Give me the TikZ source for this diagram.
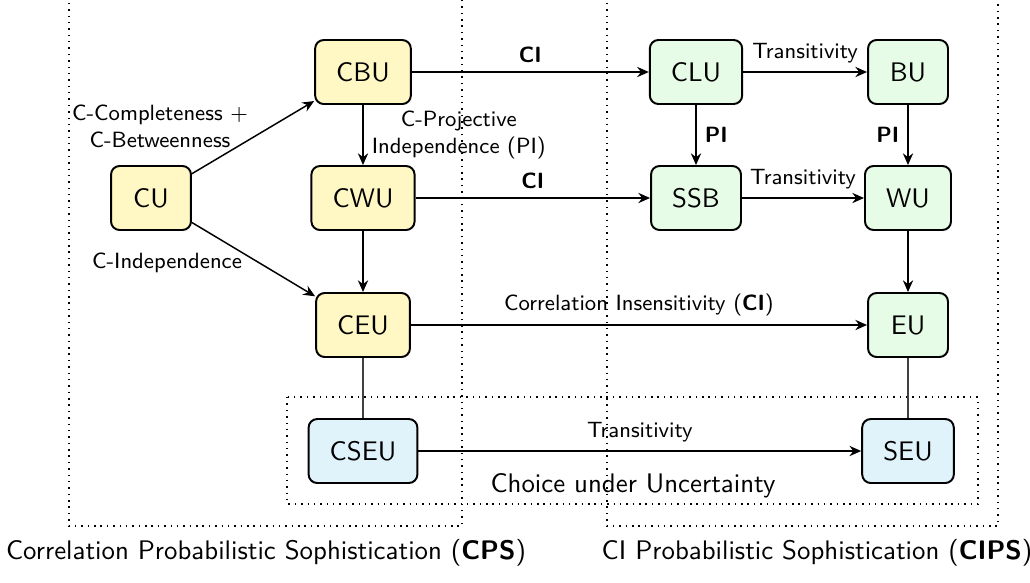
\documentclass[tikz,border=0pt]{standalone}
\usepackage{fontspec}
\usetikzlibrary{arrows.meta}
\renewcommand{\familydefault}{\sfdefault}
\definecolor{yfill}{RGB}{255,248,196}
\definecolor{gfill}{RGB}{230,252,230}
\definecolor{bfill}{RGB}{224,242,250}
\newcommand{\bigtext}{\fontsize{10.95}{13.6}\selectfont}
\newcommand{\labtext}{\fontsize{9}{11}\selectfont}
\begin{document}
\begin{tikzpicture}[x=0.4078pt,y=-0.4078pt,
  nbox/.style={draw, thick, rounded corners=3.5pt, minimum width=32.6pt, minimum height=26.1pt, inner xsep=8.6pt, font=\bigtext},
  ybox/.style={nbox, fill=yfill},
  gbox/.style={nbox, fill=gfill},
  bbox/.style={nbox, fill=bfill},
  arr/.style={semithick, -{Stealth[length=4.8pt,width=4.2pt,inset=1.6pt]}},
  link/.style={line width=0.5pt, draw=black!75},
  region/.style={semithick, dotted},
  lab/.style={font=\labtext, align=center},
  biglab/.style={font=\bigtext}
]
\clip (0,0) rectangle (1030,582);
% regions
\draw[region] (69,-10) rectangle (462,526);
\draw[region] (607,-10) rectangle (998,526);
\draw[region] (287,397) rectangle (978,504);
% nodes
\node[ybox] (CU) at (151,198) {CU};
\node[ybox] (CBU) at (363,72) {CBU};
\node[ybox] (CWU) at (363,198) {CWU};
\node[ybox] (CEU) at (363,325) {CEU};
\node[bbox] (CSEU) at (363,451) {CSEU};
\node[gbox] (CLU) at (696,72) {CLU};
\node[gbox] (SSB) at (696,198) {SSB};
\node[gbox] (BU) at (908,72) {BU};
\node[gbox] (WU) at (908,198) {WU};
\node[gbox] (EU) at (908,325) {EU};
\node[bbox] (SEU) at (908,451) {SEU};
% connectors
\draw[arr] (CU) -- (CBU);
\draw[arr] (CU) -- (CEU);
\draw[arr] (CBU) -- node[lab, right] {C-Projective\\Independence (PI)} (CWU);
\draw[arr] (CWU) -- (CEU);
\draw[arr] (CBU) -- node[lab, above] {\textbf{CI}} (CLU);
\draw[arr] (CWU) -- node[lab, above] {\textbf{CI}} (SSB);
\draw[arr] (CLU) -- node[lab, above] {Transitivity} (BU);
\draw[arr] (SSB) -- node[lab, above] {Transitivity} (WU);
\draw[arr] (CLU) -- node[lab, right] {\textbf{PI}} (SSB);
\draw[arr] (BU) -- node[lab, left] {\textbf{PI}} (WU);
\draw[arr] (WU) -- (EU);
\draw[arr] (CEU) -- node[lab, above] {Correlation Insensitivity (\textbf{CI})} (EU);
\draw[arr] (CSEU) -- node[lab, above] {Transitivity} (SEU);
\draw[link] (CEU) -- (CSEU);
\draw[link] (EU) -- (SEU);
% free labels
\node[lab] (lcc) at (160,126) {C-Completeness $+$\\C-Betweenness};
\node[lab] (lci) at (167,263) {C-Independence};
\node[biglab] (lcu) at (633,486) {Choice under Uncertainty};
\node[biglab] (lcps) at (266,553) {Correlation Probabilistic Sophistication (\textbf{CPS})};
\node[biglab] (lcips) at (817,553) {CI Probabilistic Sophistication (\textbf{CIPS})};
\end{tikzpicture}
\end{document}
